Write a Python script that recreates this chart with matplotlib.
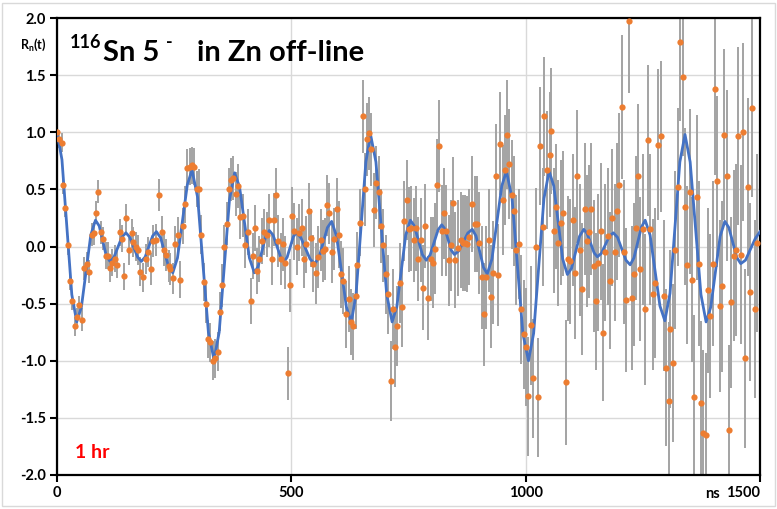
import numpy as np
import matplotlib.pyplot as plt
from matplotlib.patches import Rectangle

# measured R(t) points (ns, value) and their uncertainties
T = [0, 5, 10, 13, 18, 23, 28, 33, 38, 42, 47,
     54, 58, 63, 68, 74, 78, 83, 88, 93, 99,
     104, 109, 113, 118, 123, 128, 134, 138, 143, 148,
     153, 159, 163, 168, 173, 178, 183, 189, 194,
     200, 205, 211, 217, 224, 228, 233, 238, 242, 247,
     252, 258, 263, 268, 274, 278, 283, 288, 293, 299,
     304, 308, 313, 318, 322, 327, 332, 337, 343, 348,
     353, 357, 362, 367, 372, 376, 381, 386, 391, 397,
     402, 407, 413, 418, 423, 427, 432, 437, 441, 447,
     453, 458, 462, 467, 472, 478, 483, 487, 492, 497,
     502, 506, 512, 517, 522, 527, 531, 537, 542, 547,
     552, 557, 563, 568, 572, 576, 581, 586, 591, 597,
     602, 607, 611, 616, 622, 627, 632, 637, 641, 646,
     652, 657, 661, 666, 671, 676, 681, 686, 691, 696,
     701, 706, 712, 717, 721, 726, 731, 737, 741, 746,
     751, 756, 762, 767, 771, 777, 781, 786, 791, 797,
     802, 806, 811, 816, 821, 826, 831, 836, 841, 845,
     850, 855, 861, 866, 870, 875, 880, 886, 891, 896,
     901, 906, 911, 916, 921, 926, 931, 936, 941, 946,
     951, 955, 960, 965, 970, 975, 980, 985, 991, 996,
     1001, 1006, 1011, 1016, 1021, 1026, 1031, 1036, 1040, 1045,
     1051, 1055, 1060, 1065, 1070, 1075, 1080, 1086, 1090, 1095,
     1100, 1105, 1110, 1115, 1121, 1126, 1131, 1136, 1140, 1145,
     1150, 1155, 1160, 1165, 1170, 1175, 1180, 1185, 1190, 1195,
     1200, 1205, 1210, 1215, 1221, 1226, 1231, 1236, 1240, 1245,
     1250, 1255, 1261, 1266, 1271, 1276, 1282, 1288, 1295,
     1300, 1305, 1309, 1315, 1319, 1324, 1329, 1335, 1340, 1345,
     1350, 1355, 1360, 1365, 1370, 1375, 1379, 1384, 1389, 1394, 1399,
     1404, 1409, 1414, 1419, 1424, 1429, 1434, 1439, 1444, 1449,
     1454, 1459, 1464, 1469, 1474, 1479, 1484, 1489, 1494]

R = [1.00, 0.94, 0.91, 0.54, 0.335, 0.01, -0.30, -0.48, -0.70, -0.62, -0.51,
     -0.64, -0.19, -0.15, -0.22, 0.105, 0.115, 0.295, 0.48, 0.125, 0.07,
     -0.08, -0.08, -0.19, -0.14, -0.105, -0.16, 0.125, 0.07, -0.26, 0.25,
     -0.03, 0.115, 0.04, 0.00, -0.03, -0.22, -0.27, -0.11, -0.05,
     -0.20, 0.05, 0.055, 0.455, 0.125, -0.03, -0.07, -0.17, -0.20, -0.28,
     0.02, 0.10, -0.29, 0.18, 0.37, 0.69, 0.70, 0.71, 0.70, 0.505,
     0.505, 0.105, -0.31, -0.50, -0.81, -0.84, -1.00, -0.98, -0.92, -0.57,
     -0.34, 0.00, 0.20, 0.50, 0.585, 0.60, 0.46, 0.53, 0.26, 0.27,
     0.01, 0.125, -0.48, -0.085, 0.16, -0.215, -0.11, 0.05, 0.125, 0.105,
     0.23, -0.11, 0.235, 0.455, 0.05, -0.11, 0.02, -0.14, -1.11, -0.34,
     0.27, 0.135, 0.00, 0.12, 0.165, -0.11, 0.02, 0.31, 0.075, -0.15,
     -0.235, -0.09, 0.055, -0.04, -0.02, 0.36, 0.29, -0.05, 0.067, 0.33,
     0.105, -0.245, -0.30, -0.595, -0.46, -0.66, -0.70, -0.43, -0.16, 0.21,
     1.14, 0.50, 0.94, 0.99, 0.85, 0.32, 0.56, 0.475, 0.18, 0.01,
     -0.245, -0.42, -1.18, -0.55, -0.88, -0.70, -0.32, -0.53, 0.22, 0.405,
     0.15, 0.16, 0.055, 0.16, -0.11, 0.055, -0.36, 0.18, -0.45, -0.11,
     -0.14, -0.02, 0.54, 0.88, 0.14, 0.29, 0.14, -0.12, 0.01, 0.38,
     -0.12, -0.01, 0.06, 0.03, 0.03, 0.02, 0.08, 0.37, 0.20, 0.195,
     0.03, -0.27, -0.595, -0.27, 0.055, -0.44, -0.23, 0.62, -0.25, 0.90,
     0.405, 0.67, 0.98, 0.72, 0.455, 0.31, -0.03, 0.02, -0.55, -0.77,
     -0.88, -1.31, -0.69, -1.155, -0.006, -1.32, 0.88, 0.17, 1.14, 0.67,
     0.805, 1.01, 0.14, 0.35, 0.03, 0.21, 0.29, -1.19, -0.105, -0.13,
     0.23, -0.23, 0.615, -0.03, -0.37, 0.33, 0.05, 0.13, 0.33, -0.17,
     -0.48, -0.14, 0.135, -0.755, -0.05, 0.09, -0.30, 0.25, -0.05, 0.31,
     0.54, 1.22, -0.05, -0.47, 1.97, -0.45, -0.245, 0.16, 0.615, -0.20,
     0.15, -0.55, 0.93, 0.15, -0.42, -0.32, 0.89, 0.965, -0.43,
     -1.06, -1.35, -0.72, -1.02, -0.03, 0.52, 1.79, 1.48, 0.35, -0.16,
     0.48, -0.29, -1.32, 0.43, -0.15, -1.37, -1.63, -1.65, -0.385, -0.61, -0.15,
     1.38, 0.57, -0.52, -0.35, 0.98, 0.62, -1.61, -0.49, -0.08, -0.03,
     0.97, -0.07, 1.00, -0.98, 0.52, -0.40, 1.21, -0.545, 0.03]

ERR = [0.08, 0.08, 0.08, 0.08, 0.08, 0.08, 0.08, 0.08, 0.08, 0.08, 0.08,
       0.10, 0.10, 0.10, 0.10, 0.10, 0.10, 0.10, 0.10, 0.10, 0.10,
       0.12, 0.12, 0.12, 0.12, 0.12, 0.12, 0.12, 0.12, 0.12, 0.12,
       0.13, 0.13, 0.13, 0.13, 0.13, 0.13, 0.13, 0.13, 0.13,
       0.14, 0.14, 0.14, 0.14, 0.14, 0.14, 0.14, 0.14, 0.14, 0.14,
       0.16, 0.16, 0.16, 0.16, 0.16, 0.16, 0.16, 0.16, 0.16, 0.16,
       0.17, 0.17, 0.17, 0.17, 0.17, 0.17, 0.17, 0.17, 0.17, 0.17,
       0.19, 0.19, 0.19, 0.19, 0.19, 0.19, 0.19, 0.19, 0.19, 0.19,
       0.20, 0.20, 0.20, 0.20, 0.20, 0.20, 0.20, 0.20, 0.20, 0.20,
       0.23, 0.23, 0.23, 0.23, 0.23, 0.23, 0.23, 0.23, 0.23, 0.23,
       0.25, 0.25, 0.25, 0.25, 0.25, 0.25, 0.25, 0.25, 0.25, 0.25,
       0.27, 0.27, 0.27, 0.27, 0.27, 0.27, 0.27, 0.27, 0.27, 0.27,
       0.29, 0.29, 0.29, 0.29, 0.29, 0.29, 0.29, 0.29, 0.29, 0.29,
       0.32, 0.32, 0.32, 0.32, 0.32, 0.32, 0.32, 0.32, 0.32, 0.32,
       0.35, 0.35, 0.35, 0.35, 0.35, 0.35, 0.35, 0.35, 0.35, 0.35,
       0.37, 0.37, 0.37, 0.37, 0.37, 0.37, 0.37, 0.37, 0.37, 0.37,
       0.40, 0.40, 0.40, 0.40, 0.40, 0.40, 0.40, 0.40, 0.40, 0.40,
       0.42, 0.42, 0.42, 0.42, 0.42, 0.42, 0.42, 0.42, 0.42, 0.42,
       0.45, 0.45, 0.45, 0.45, 0.45, 0.45, 0.45, 0.45, 0.45, 0.45,
       0.48, 0.48, 0.48, 0.48, 0.48, 0.48, 0.48, 0.48, 0.48, 0.48,
       0.52, 0.52, 0.52, 0.52, 0.52, 0.52, 0.52, 0.52, 0.52, 0.52,
       0.55, 0.55, 0.55, 0.55, 0.55, 0.55, 0.55, 0.55, 0.55, 0.55,
       0.58, 0.58, 0.58, 0.58, 0.58, 0.58, 0.58, 0.58, 0.58, 0.58,
       0.60, 0.60, 0.60, 0.60, 0.60, 0.60, 0.60, 0.60, 0.60, 0.60,
       0.63, 0.63, 0.63, 0.63, 0.63, 0.63, 0.63, 0.63, 0.63, 0.63,
       0.66, 0.66, 0.66, 0.66, 0.66, 0.66, 0.66, 0.66, 0.66,
       0.69, 0.69, 0.69, 0.69, 0.69, 0.69, 0.69, 0.69, 0.69, 0.69,
       0.72, 0.72, 0.72, 0.72, 0.72, 0.72, 0.72, 0.72, 0.72, 0.72, 0.72,
       0.75, 0.75, 0.75, 0.75, 0.75, 0.75, 0.75, 0.75, 0.75, 0.75,
       0.78, 0.78, 0.78, 0.78, 0.78, 0.78, 0.78, 0.78, 0.78]

# fitted R(t) curve, sampled at the listed times
FIT_T = [0, 10.5, 21, 31.5, 42, 52, 62, 72, 82, 90, 97.5, 105, 113,
         121.5, 130, 138.5, 147, 155, 163.5, 172, 180, 188, 196, 204, 212,
         221, 229.5, 238, 247, 257, 267.5, 278, 288, 300, 311.5, 323, 335,
         346, 357, 368, 379, 389.5, 400, 410.5, 421, 429, 437, 445, 453,
         461, 469, 477, 485, 491, 497.5, 504, 510, 520, 530, 540, 550,
         559, 568, 577, 586, 596.5, 607, 617.5, 628, 638, 648.5, 659, 669,
         680.5, 692, 703.5, 715, 725, 734.5, 744, 754, 762.5, 771, 779.5, 788,
         796, 804.5, 813, 821, 828, 834.5, 841, 848, 857.5, 867, 876.5, 886,
         894, 902, 910, 918, 928, 938.5, 949, 959, 971, 982.5, 994, 1006,
         1017, 1028, 1039, 1050, 1060, 1069.5, 1079, 1089, 1098, 1106.5, 1115, 1124,
         1131, 1138.5, 1146, 1153, 1161.5, 1170, 1178.5, 1187, 1196, 1205, 1214, 1223,
         1231, 1239, 1247, 1255, 1265.5, 1276, 1286.5, 1297, 1308, 1318.5, 1329, 1340,
         1351, 1362.5, 1374, 1385, 1395, 1405, 1415, 1425, 1433.5, 1442, 1450.5, 1459,
         1469, 1479, 1490, 1500]
FIT_R = [1.00, 0.76, 0.17, -0.42, -0.66, -0.53, -0.215, 0.10, 0.23, 0.18, 0.05, -0.08, -0.13,
         -0.093, -0.005, 0.083, 0.12, 0.083, -0.005, -0.093, -0.13, -0.092, 0.0, 0.092, 0.13,
         0.077, -0.05, -0.177, -0.23, -0.10, 0.22, 0.54, 0.67, 0.43, -0.16, -0.75, -0.99,
         -0.75, -0.17, 0.41, 0.645, 0.52, 0.21, -0.10, -0.23, -0.176, -0.045, 0.086, 0.14,
         0.10, 0.005, -0.09, -0.13, -0.094, -0.005, 0.083, 0.12, 0.08, -0.015, -0.11, -0.15,
         -0.096, 0.035, 0.166, 0.22, 0.09, -0.22, -0.53, -0.66, -0.42, 0.16, 0.74, 0.98,
         0.74, 0.16, -0.42, -0.66, -0.53, -0.215, 0.10, 0.23, 0.18, 0.055, -0.07, -0.12,
         -0.075, 0.035, 0.145, 0.19, 0.152, 0.06, -0.032, -0.07, -0.038, 0.04, 0.118, 0.15,
         0.093, -0.045, -0.183, -0.24, -0.11, 0.21, 0.53, 0.66, 0.42, -0.17, -0.76, -1.0,
         -0.76, -0.17, 0.42, 0.66, 0.53, 0.21, -0.11, -0.245, -0.19, -0.05, 0.09, 0.15,
         0.115, 0.03, -0.055, -0.09, -0.06, 0.015, 0.09, 0.12, 0.08, -0.02, -0.12, -0.16,
         -0.10, 0.035, 0.17, 0.23, 0.10, -0.21, -0.52, -0.65, -0.41, 0.165, 0.74, 0.98,
         0.74, 0.16, -0.42, -0.66, -0.53, -0.22, 0.09, 0.22, 0.166, 0.035, -0.096, -0.15,
         -0.12, -0.03, 0.07, 0.13]

Y_TICKS = [-2.0, -1.5, -1.0, -0.5, 0.0, 0.5, 1.0, 1.5, 2.0]
X_TICKS = [0, 500, 1000, 1500]

plt.rcParams['font.family'] = ['Lato', 'DejaVu Sans']
plt.rcParams['axes.unicode_minus'] = False
plt.rcParams['mathtext.default'] = 'regular'

fig = plt.figure(figsize=(7.77, 5.09), dpi=100)
fig.patches.append(Rectangle((0.002, 0.006), 0.996, 0.988, transform=fig.transFigure,
                             fill=False, edgecolor='#d9d9d9', lw=1))
ax = fig.add_axes([0.0734, 0.0668, 0.9047, 0.8978])

ax.errorbar(T, R, yerr=ERR, fmt='none', ecolor='#a3a3a3', elinewidth=1.4,
            capsize=0, zorder=2)
ax.plot(FIT_T, FIT_R, color='#4472c4', lw=2, zorder=3)
ax.plot(T, R, 'o', color='#ed7d31', ms=4.5, mec='none', zorder=4)

ax.set_xlim(0, 1500)
ax.set_ylim(-2, 2)
ax.set_xticks(X_TICKS)
ax.set_xticklabels([str(x) for x in X_TICKS])
ax.set_yticks(Y_TICKS)
ax.set_yticklabels([f'{y:.1f}' for y in Y_TICKS])
ax.grid(color='#d9d9d9', lw=1)
ax.set_axisbelow(True)
for s in ax.spines.values():
    s.set_linewidth(1.6)
    s.set_color('black')
ax.tick_params(direction='out', length=5, width=1.5, labelsize=10.5, pad=3)
for lbl in ax.get_xticklabels() + ax.get_yticklabels():
    lbl.set_fontweight('bold')
# last x label sits flush against the right edge, "ns" goes to its left
ax.get_xticklabels()[-1].set_horizontalalignment('right')

# title: superscripts drawn as separate smaller texts
ax.text(0.018, 0.935, '116', transform=ax.transAxes, fontsize=13,
        fontweight='bold', va='baseline', ha='left')
ax.text(0.066, 0.905, 'Sn 5', transform=ax.transAxes, fontsize=21,
        fontweight='bold', va='baseline', ha='left')
ax.text(0.155, 0.935, '-', transform=ax.transAxes, fontsize=13,
        fontweight='bold', va='baseline', ha='left')
ax.text(0.199, 0.905, 'in Zn off-line', transform=ax.transAxes, fontsize=21,
        fontweight='bold', va='baseline', ha='left')

ax.text(0.026, 0.05, '1 hr', transform=ax.transAxes, color='#ff0000',
        fontsize=14, fontweight='bold', va='center', ha='left')
fig.text(33 / 777, 1 - 45 / 509, r'R$_n$(t)', fontsize=9, fontweight='bold',
         ha='center', va='center')
fig.text(712 / 777, 1 - 494 / 509, 'ns', fontsize=10.5, fontweight='bold',
         ha='center', va='center')

fig.savefig('out.png', dpi=100)
